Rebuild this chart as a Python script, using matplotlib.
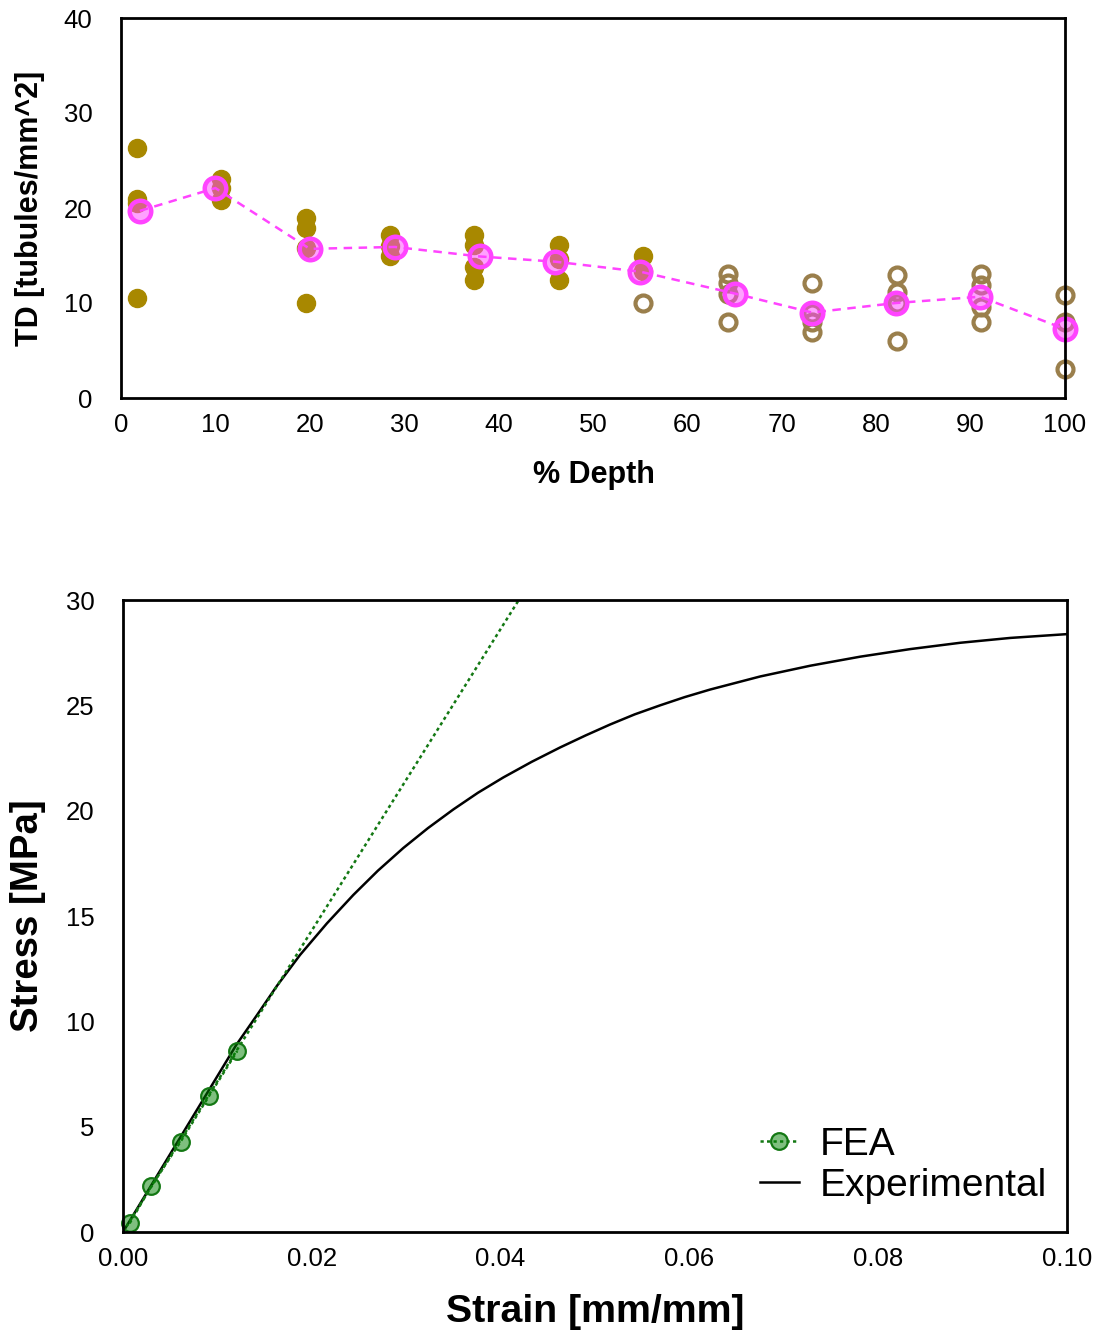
import matplotlib
matplotlib.use("Agg")
import matplotlib.pyplot as plt

plt.rcParams['font.family'] = ['Liberation Sans', 'DejaVu Sans']

# ---- Tubule density vs depth ----
# individual measurements (filled = outer region, open = inner region)
filled_depth = [1.7, 1.7, 1.7, 1.7,
                10.6, 10.6, 10.6,
                19.6, 19.6, 19.6, 19.6,
                28.5, 28.5, 28.5,
                37.4, 37.4, 37.4, 37.4,
                46.4, 46.4, 46.4,
                55.3, 55.3]
filled_td = [26.3, 21.0, 20.5, 10.5,
             23.1, 22.1, 20.8,
             19.0, 17.9, 15.8, 10.0,
             17.2, 16.0, 14.9,
             17.2, 16.1, 13.8, 12.4,
             16.1, 14.6, 12.4,
             15.0, 13.4]
open_depth = [55.3,
              64.3, 64.3, 64.3, 64.3,
              73.2, 73.2, 73.2, 73.2,
              82.2, 82.2, 82.2, 82.2,
              91.1, 91.1, 91.1, 91.1,
              100.0, 100.0, 100.0]
open_td = [10.0,
           13.1, 12.1, 11.0, 8.0,
           12.1, 8.9, 8.0, 7.0,
           13.0, 11.2, 10.0, 6.0,
           13.1, 11.9, 9.6, 8.0,
           10.8, 8.0, 3.1]
mean_depth = [2, 10, 20, 29, 38, 46, 55, 65, 73.2, 82.1, 91, 100]
mean_td = [19.7, 22.1, 15.7, 15.9, 14.9, 14.35, 13.3, 11.0, 9.0, 10.0, 10.66, 7.26]
depth_ticks = [0, 10, 20, 30, 40, 50, 60, 70, 80, 90, 100]
td_ticks = [0, 10, 20, 30, 40]

# ---- Stress-strain ----
fea_strain = [0.0007, 0.0030, 0.0061, 0.0091, 0.0121]
fea_stress = [0.41, 2.18, 4.29, 6.45, 8.59]
fea_fit_strain = [0.0, 0.0450]
fea_fit_stress = [0.0, 32.2]
exp_strain = [0.0, 0.003, 0.006, 0.009, 0.012, 0.0142, 0.0163, 0.01875, 0.0216,
              0.0244, 0.0270, 0.0297, 0.0323, 0.0350, 0.0376, 0.0403, 0.0433,
              0.0463, 0.0490, 0.0516, 0.0542, 0.0569, 0.0595, 0.0622,
              0.0675, 0.0728, 0.0781, 0.0834, 0.0887, 0.0940, 0.1000]
exp_stress = [0.0, 2.22, 4.44, 6.66, 8.88, 10.3, 11.68, 13.15, 14.65,
              16.0, 17.15, 18.23, 19.17, 20.06, 20.85, 21.58, 22.32,
              23.0, 23.57, 24.09, 24.57, 25.0, 25.39, 25.75,
              26.37, 26.88, 27.31, 27.67, 27.97, 28.2, 28.38]
strain_ticks = [0.00, 0.02, 0.04, 0.06, 0.08, 0.10]
strain_labels = ['0.00', '0.02', '0.04', '0.06', '0.08', '0.10']
stress_ticks = [0, 5, 10, 15, 20, 25, 30]

W, H = 1094, 1334
fig = plt.figure(figsize=(W / 100, H / 100), dpi=100)
ax1 = fig.add_axes([121 / W, 1 - 398 / H, 944 / W, 380 / H])
ax2 = fig.add_axes([123 / W, 1 - 1232 / H, 944 / W, 632 / H])

tick_fs = 18.5
for ax in (ax1, ax2):
    for s in ax.spines.values():
        s.set_linewidth(2.0)
        s.set_color('black')
    ax.tick_params(axis='both', length=0, labelsize=tick_fs)
    ax.tick_params(axis='y', pad=20.5)

# top panel
ax1.plot(filled_depth, filled_td, 'o', ms=13, color='#a88800', mec='#a88800',
         clip_on=False, zorder=2)
ax1.plot(open_depth, open_td, 'o', ms=11.5, mfc='none', mec='#9a7f4c', mew=3.0,
         clip_on=False, zorder=2)
ax1.plot(mean_depth, mean_td, linestyle=(0, (3.4, 2.6)), lw=1.8, color='#ff44ff',
         marker='o', ms=15.5, mfc=(1.0, 0.27, 1.0, 0.5), mec='#ff44ff', mew=3.2,
         clip_on=False, zorder=2.2)
ax1.set_xlim(0, 100)
ax1.set_ylim(0, 40)
ax1.set_xticks(depth_ticks)
ax1.set_yticks(td_ticks)
ax1.tick_params(axis='x', pad=11)
ax1.set_xlabel('% Depth', fontsize=22, fontweight='bold', va='center')
ax1.set_ylabel('TD [tubules/mm^2]', fontsize=22, fontweight='bold', va='center')
ax1.xaxis.set_label_coords(0.501, -0.2026)
ax1.yaxis.set_label_coords(-0.0964, 0.5)

# bottom panel
ax2.plot(exp_strain, exp_stress, '-', color='black', lw=1.8, label='Experimental',
         zorder=2)
ax2.plot(fea_fit_strain, fea_fit_stress, linestyle=(0, (1.3, 1.3)), lw=1.8,
         color='#137813', zorder=2.1)
ax2.plot(fea_strain, fea_stress, linestyle=(0, (1.3, 1.3)), lw=1.8, color='#137813',
         marker='o', ms=12, mfc=(0.0, 0.5, 0.0, 0.5), mec='#137813', mew=1.6,
         label='FEA', clip_on=False, zorder=2.2)
ax2.set_xlim(0, 0.10)
ax2.set_ylim(0, 30)
ax2.set_xticks(strain_ticks)
ax2.set_xticklabels(strain_labels)
ax2.set_yticks(stress_ticks)
ax2.tick_params(axis='x', pad=11)
ax2.set_xlabel('Strain [mm/mm]', fontsize=28.3, fontweight='bold', va='center')
ax2.set_ylabel('Stress [MPa]', fontsize=27.6, fontweight='bold', va='center')
ax2.xaxis.set_label_coords(0.5, -0.1266)
ax2.yaxis.set_label_coords(-0.1006, 0.5)

handles, labels = ax2.get_legend_handles_labels()
order = [labels.index('FEA'), labels.index('Experimental')]
ax2.legend([handles[i] for i in order], [labels[i] for i in order],
           loc='lower right', bbox_to_anchor=(0.979, 0.045), frameon=False,
           fontsize=28, handlelength=1.0, handletextpad=0.55, labelspacing=0.12,
           borderpad=0, borderaxespad=0, numpoints=1)

fig.savefig('out.png', dpi=100)
